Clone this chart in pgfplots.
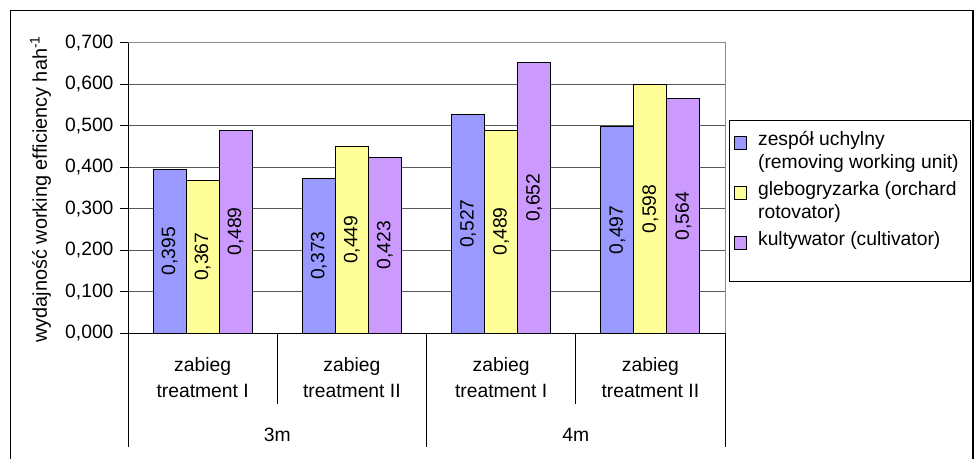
\documentclass[border=0pt]{standalone}
\usepackage{pgfplots}
\pgfplotsset{compat=1.18}
\usepackage{fontspec}
\setmainfont{Liberation Sans}
\definecolor{cblue}{HTML}{9999FF}
\definecolor{cyellow}{HTML}{FFFF99}
\definecolor{cpurple}{HTML}{CC99FF}
\newcommand{\fs}{\fontsize{19.3bp}{24bp}\selectfont}
\newcommand{\fl}{\fontsize{19.9bp}{24bp}\selectfont}
\newcommand{\hA}{\rule{0pt}{22bp}}
\newcommand{\hB}{\rule{0pt}{18bp}}
\begin{document}
\begin{tikzpicture}
\useasboundingbox (0,0) rectangle (976bp,459bp);
\fill[white] (0,0) rectangle (976bp,459bp);
\draw[line width=1.4bp] (10.5bp,-10bp) rectangle (973bp,448.3bp);
\draw[line width=1bp] (729bp,177bp) rectangle (970bp,338bp);
\begin{axis}[
  at={(128bp,126bp)}, anchor=south west,
  scale only axis, width=597bp, height=290.5bp,
  ybar, bar width=33bp,
  xmin=-0.5, xmax=3.5, ymin=0, ymax=0.7,
  xtick=\empty,
  ytick pos=left,
  ytick={0,0.1,0.2,0.3,0.4,0.5,0.6,0.7},
  yticklabel style={font=\fs, xshift=-3bp, /pgf/number format/.cd, fixed, fixed zerofill, precision=3, use comma, assume math mode=true},
  tick align=outside, major tick length=8bp,
  major y tick style={black, line width=0.8bp},
  ymajorgrids, grid style={black!65, line width=0.8bp},
  axis line style={draw=none},
  clip=false,
  ylabel={wydajność working efficiency hah\textsuperscript{-1}},
  every axis y label/.style={at={([xshift=-81bp,yshift=-1.5bp]rel axis cs:0,0.5)}, anchor=base, rotate=90, font=\fl},
  legend image code/.code={\draw[#1] (0bp,-4bp) rectangle (12bp,9bp);},
  legend style={at={(rel axis cs:1.01508,0.7229)}, anchor=north west, draw=none, fill=none,
     font=\fs, inner sep=0pt, row sep=0pt, column sep=11bp,
     nodes={inner sep=0pt, text depth=5bp}, cells={anchor=base west}},
  visualization depends on={y \as \rawy},
  nodes near coords={\pgfmathprintnumber[fixed,fixed zerofill,precision=3,use comma,assume math mode=true]{\pgfplotspointmeta}},
  every node near coord/.append style={shift={(axis direction cs:0,-\rawy/2)}, rotate=90, anchor=center, font=\fs, text=black},
]
\addplot[draw=black, line width=0.9bp, fill=cblue, bar shift=-33bp] coordinates {(0,0.395) (1,0.373) (2,0.527) (3,0.497)};
\addlegendentry{\hA zespół uchylny}
\addlegendimage{empty legend}
\addlegendentry{\hB(removing working unit)}
\addplot[draw=black, line width=0.9bp, fill=cyellow, bar shift=0bp] coordinates {(0,0.367) (1,0.449) (2,0.489) (3,0.598)};
\addlegendentry{\hA glebogryzarka (orchard}
\addlegendimage{empty legend}
\addlegendentry{\hB rotovator)}
\addplot[draw=black, line width=0.9bp, fill=cpurple, bar shift=33bp] coordinates {(0,0.489) (1,0.423) (2,0.652) (3,0.564)};
\addlegendentry{\hA kultywator (cultivator)}
\draw[black!45, line width=0.9bp] (rel axis cs:0,1) -- (rel axis cs:1,1) -- (rel axis cs:1,0);
\draw[black, line width=0.9bp] (rel axis cs:0,1) -- (rel axis cs:0,0) -- (rel axis cs:1,0);
\draw[black, line width=0.9bp] (axis cs:-0.5,0) -- ([yshift=-114bp]axis cs:-0.5,0);
\draw[black, line width=0.9bp] (axis cs:1.5,0) -- ([yshift=-114bp]axis cs:1.5,0);
\draw[black, line width=0.9bp] (axis cs:3.5,0) -- ([yshift=-114bp]axis cs:3.5,0);
\draw[black, line width=0.9bp] (axis cs:0.5,0) -- ([yshift=-71bp]axis cs:0.5,0);
\draw[black, line width=0.9bp] (axis cs:2.5,0) -- ([yshift=-71bp]axis cs:2.5,0);
\node[anchor=base, font=\fs] at ([yshift=-38bp]axis cs:0,0) {zabieg};
\node[anchor=base, font=\fs] at ([yshift=-64bp]axis cs:0,0) {treatment I};
\node[anchor=base, font=\fs] at ([yshift=-38bp]axis cs:1,0) {zabieg};
\node[anchor=base, font=\fs] at ([yshift=-64bp]axis cs:1,0) {treatment II};
\node[anchor=base, font=\fs] at ([yshift=-38bp]axis cs:2,0) {zabieg};
\node[anchor=base, font=\fs] at ([yshift=-64bp]axis cs:2,0) {treatment I};
\node[anchor=base, font=\fs] at ([yshift=-38bp]axis cs:3,0) {zabieg};
\node[anchor=base, font=\fs] at ([yshift=-64bp]axis cs:3,0) {treatment II};
\node[anchor=base, font=\fs] at ([yshift=-108bp]axis cs:0.5,0) {3m};
\node[anchor=base, font=\fs] at ([yshift=-108bp]axis cs:2.5,0) {4m};
\end{axis}
\end{tikzpicture}
\end{document}
